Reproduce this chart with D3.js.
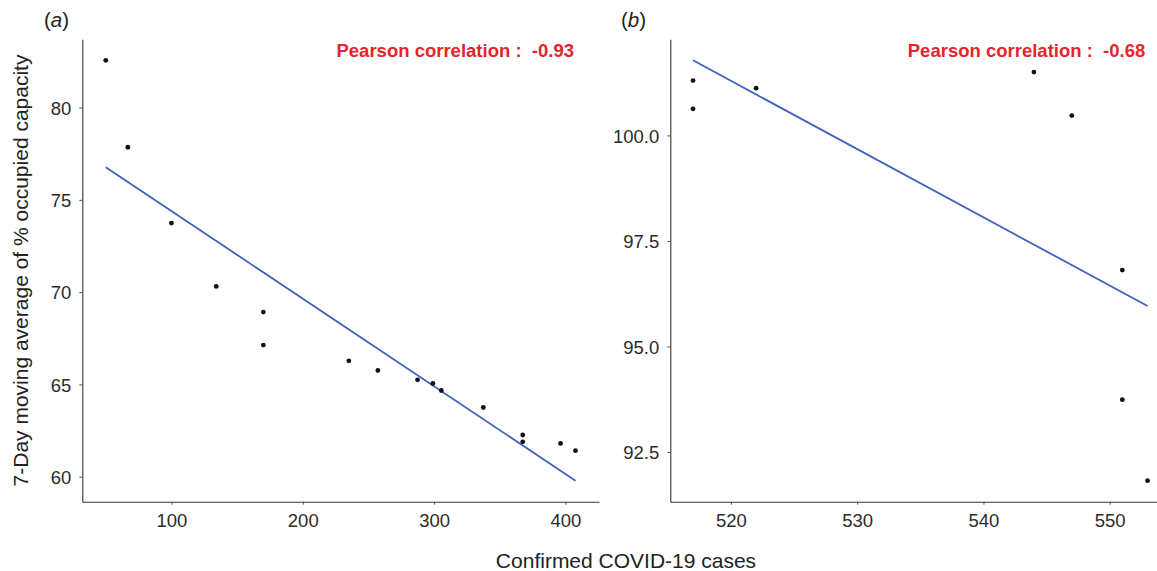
<!DOCTYPE html>
<html>
<head>
<meta charset="utf-8">
<script src="https://cdn.jsdelivr.net/npm/d3@7"></script>
<style>
  body{margin:0;background:#fff;}
  svg{display:block;font-family:"Liberation Sans",Arial,Helvetica,sans-serif;}
  .tick text{fill:#2b2b2b;}
</style>
</head>
<body>
<div id="grafico"></div>
<script>
// panel (a) data
const casesA=[50,66.8,100,134.1,170,170,235.1,257.2,287.4,299.1,305.5,337.5,367.5,367.5,396.3,407.7]
const capacityA=[82.56,77.85,73.74,70.31,68.92,67.13,66.28,65.76,65.25,65.05,64.67,63.75,62.26,61.89,61.80,61.41]
const xTicksA=[100,200,300,400]
const yTicksA=[60,65,70,75,80]
const pearsonA="-0.93"

// panel (b) data
const casesB=[517,517,522,544,547,551,551,553]
const capacityB=[101.30,100.63,101.12,101.50,100.47,96.81,93.74,91.82]
const xTicksB=[520,530,540,550]
const yTicksB=[92.5,95,97.5,100]
const pearsonB="-0.68"

const W=1157, H=571
const plotTop=39.3, plotBottom=501.7

let svg=d3.select("#grafico")
  .append("svg")
  .attr("width",W)
  .attr("height",H)

// least squares fit
let fit=(xs,ys)=>{
  let mx=d3.mean(xs), my=d3.mean(ys)
  let sxy=d3.sum(xs,(x,i)=>(x-mx)*(ys[i]-my))
  let sxx=d3.sum(xs,x=>(x-mx)*(x-mx))
  let b=sxy/sxx
  return x=>my+b*(x-mx)
}

// ggplot style 5% expansion
let expand=(lo,hi)=>{let p=(hi-lo)*0.05; return [lo-p,hi+p]}

let panel=(xs,ys,xTicks,yTicks,yFmt,left,right,tag,tagX,r)=>{
  let line=fit(xs,ys)
  let x0=d3.min(xs), x1=d3.max(xs)
  let yAll=ys.concat([line(x0),line(x1)])

  let x=d3.scaleLinear().domain(expand(x0,x1)).range([left,right])
  let y=d3.scaleLinear().domain(expand(d3.min(yAll),d3.max(yAll))).range([plotBottom,plotTop])

  let g=svg.append("g")

  //X axis
  let xa=g.append("g")
    .attr("transform",`translate(0,${plotBottom})`)
    .call(d3.axisBottom(x).tickValues(xTicks).tickSize(3).tickSizeOuter(0).tickPadding(9))
  xa.select(".domain").attr("stroke","#333").attr("stroke-width",1.1)
  xa.selectAll(".tick line").attr("stroke","#555")
  xa.selectAll("text").style("font-size","18.5px").attr("dy","0.71em")

  //Y axis
  let ya=g.append("g")
    .attr("transform",`translate(${left},0)`)
    .call(d3.axisLeft(y).tickValues(yTicks).tickSize(3).tickSizeOuter(0).tickPadding(8).tickFormat(yFmt))
  ya.select(".domain").attr("stroke","#333").attr("stroke-width",1.1)
  ya.selectAll(".tick line").attr("stroke","#555")
  ya.selectAll("text").style("font-size","18.5px").attr("dy","0.36em")

  //fitted line
  g.append("line")
    .attr("x1",x(x0)).attr("y1",y(line(x0)))
    .attr("x2",x(x1)).attr("y2",y(line(x1)))
    .attr("stroke","#3f62bd")
    .attr("stroke-width",1.8)

  //points
  g.selectAll("circle")
    .data(xs)
    .enter()
    .append("circle")
      .attr("cx",(d)=>x(d))
      .attr("cy",(d,i)=>y(ys[i]))
      .attr("r",2.4)
      .attr("fill","#111")

  //annotation
  g.append("text")
    .attr("x",right-25)
    .attr("y",56.7)
    .attr("text-anchor","end")
    .attr("fill","#e8232b")
    .style("font-size","18.5px")
    .style("font-weight","bold")
    .style("white-space","pre")
    .text("Pearson correlation :  "+r)

  //panel tag
  let t=g.append("text")
    .attr("x",tagX)
    .attr("y",27)
    .attr("fill","#222")
    .style("font-size","20.5px")
  t.append("tspan").text("(")
  t.append("tspan").style("font-style","italic").text(tag)
  t.append("tspan").text(")")
}

panel(casesA,capacityA,xTicksA,yTicksA,d3.format("d"),82.3,599,"a",44,pearsonA)
panel(casesB,capacityB,xTicksB,yTicksB,d3.format(".1f"),670.3,1170.3,"b",621,pearsonB)

//titulos
svg.append("text")
  .attr("transform","translate(28.3,270.5) rotate(-90)")
  .attr("text-anchor","middle")
  .attr("fill","#222")
  .style("font-size","21px")
  .text("7-Day moving average of % occupied capacity")

svg.append("text")
  .attr("x",626)
  .attr("y",567.7)
  .attr("text-anchor","middle")
  .attr("fill","#222")
  .style("font-size","21px")
  .text("Confirmed COVID-19 cases")
</script>
</body>
</html>
